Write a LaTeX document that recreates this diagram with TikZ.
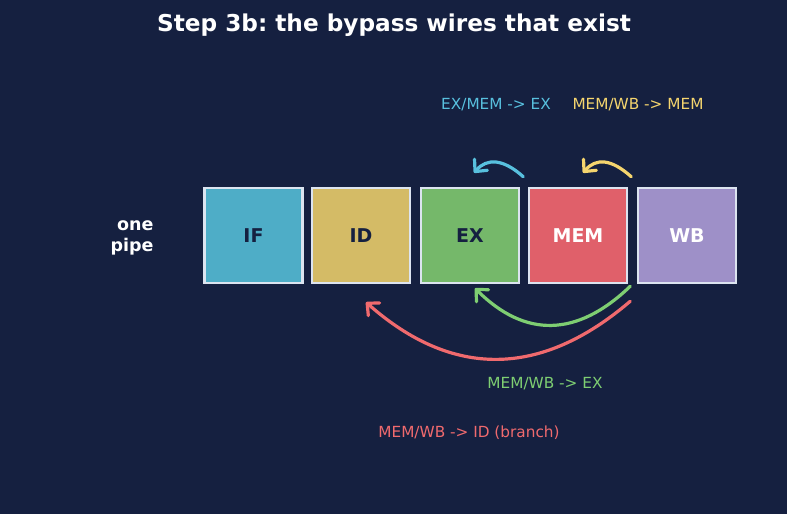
\documentclass[tikz,border=0pt]{standalone}
\usepackage{fontspec}
\setmainfont{DejaVu Sans}
\usetikzlibrary{arrows.meta,calc,positioning}
\frenchspacing

\definecolor{bgnavy}{HTML}{152040}
\definecolor{stageedge}{HTML}{DCE4F0}
\definecolor{ifblue}{HTML}{4EADC7}
\definecolor{idgold}{HTML}{D4BB66}
\definecolor{exgreen}{HTML}{75B86A}
\definecolor{memred}{HTML}{E0606A}
\definecolor{wbpurple}{HTML}{9E90C8}
\definecolor{inktext}{HTML}{152040}
\definecolor{wirecyan}{HTML}{58C0DE}
\definecolor{wireyellow}{HTML}{F5D56E}
\definecolor{wiregreen}{HTML}{7ECE72}
\definecolor{wirered}{HTML}{F06A6E}

\tikzset{
  stage/.style={draw=stageedge, line width=2.5pt, minimum width=98pt,
    minimum height=95pt, font=\fontsize{19}{22}\selectfont\bfseries},
  wire/.style={line width=3.2pt, line cap=round,
    -{Straight Barb[round,length=9pt,width=17pt]}},
  wirelabel/.style={font=\fontsize{15.3}{18}\selectfont},
}

\begin{document}
\begin{tikzpicture}[x=1pt, y=-1pt]
  % Background
  \useasboundingbox[fill=bgnavy] (0,0) rectangle (787,514);

  % Title
  \node[text=white, font=\fontsize{23.2}{27}\selectfont\bfseries] (title) at (394,25)
    {Step 3b: the bypass wires that exist};

  % Pipeline stages
  \foreach \name/\x/\col/\ink in {IF/253.5/ifblue/inktext, ID/361/idgold/inktext,
      EX/470/exgreen/inktext, MEM/578/memred/white, WB/687/wbpurple/white} {
    \node[stage, fill=\col, text=\ink] (\name) at (\x,235.5) {\name};
  }
  \node[text=white, align=right, anchor=east,
    font=\fontsize{17.5}{21}\selectfont\bfseries] (pipe) at (157,238) {one\\pipe};

  % Wire end points
  \coordinate (cyS) at ($(EX.north east)+(3,-10)$);
  \coordinate (cyE) at ($(EX.north)+(4,-14)$);
  \coordinate (yeS) at ($(MEM.north east)+(3,-10)$);
  \coordinate (yeE) at ($(MEM.north)+(5,-14)$);
  \coordinate (grS) at ($(MEM.south east)+(2,2)$);
  \coordinate (grE) at ($(EX.south)+(5,4)$);
  \coordinate (rdS) at ($(MEM.south east)+(2,17)$);
  \coordinate (rdE) at ($(ID.south)+(5,18)$);

  % Bypass wires
  \draw[wire, wirecyan] (cyS) .. controls +(-20,-18) and +(13,-15) .. (cyE);
  \draw[wire, wireyellow] (yeS) .. controls +(-20,-18) and +(13,-15) .. (yeE);
  \draw[wire, wiregreen] (grS) .. controls +(-53,51) and +(50,50) .. (grE);
  \draw[wire, wirered] (rdS) .. controls +(-90,77) and +(86,76) .. (rdE);

  % Wire labels
  \node[wirelabel, text=wirecyan] (cyL) at (496,105) {EX/MEM -> EX};
  \node[wirelabel, text=wireyellow] (yeL) at (638,105) {MEM/WB -> MEM};
  \node[wirelabel, text=wiregreen] (grL) at (545,384) {MEM/WB -> EX};
  \node[wirelabel, text=wirered] (rdL) at (469,433) {MEM/WB -> ID (branch)};
\end{tikzpicture}
\end{document}
